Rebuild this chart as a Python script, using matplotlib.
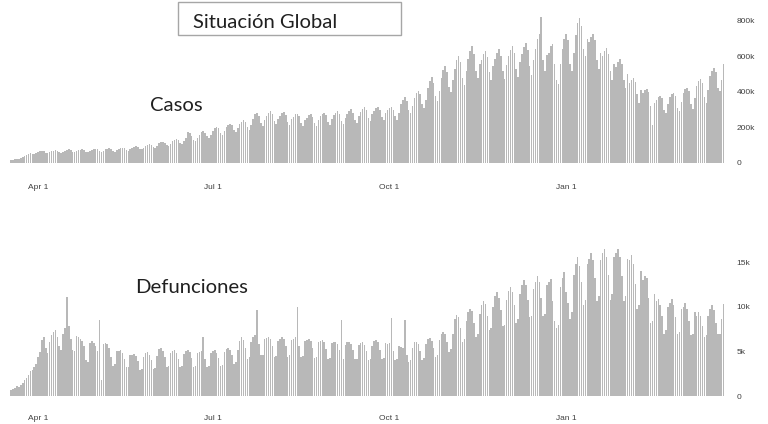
import numpy as np
import pandas as pd
import matplotlib
matplotlib.use("Agg")
import matplotlib.pyplot as plt
import matplotlib.dates as mdates
from matplotlib.patches import Rectangle

# daily global values; one row per week (Wed..Tue), starting 2020-03-18
casos_k = [
    [14, 16, 20, 24, 22, 26, 32],
    [40, 45, 52, 56, 50, 48, 55],
    [62, 66, 68, 66, 58, 55, 60],
    [66, 70, 72, 70, 60, 56, 62],
    [70, 74, 76, 72, 62, 60, 66],
    [72, 74, 76, 72, 64, 60, 68],
    [74, 78, 80, 76, 66, 62, 70],
    [76, 80, 82, 78, 68, 64, 72],
    [80, 84, 86, 82, 72, 68, 76],
    [86, 92, 96, 90, 80, 76, 84],
    [98, 104, 108, 102, 90, 84, 94],
    [110, 116, 120, 114, 100, 96, 108],
    [124, 130, 136, 128, 112, 106, 122],
    [138, 176, 168, 150, 130, 124, 142],
    [160, 172, 180, 170, 150, 140, 160],
    [180, 196, 204, 196, 170, 160, 182],
    [204, 214, 222, 212, 186, 176, 198],
    [220, 232, 240, 228, 200, 186, 214],
    [250, 274, 282, 262, 226, 210, 240],
    [262, 280, 290, 274, 236, 218, 250],
    [266, 282, 286, 270, 232, 214, 248],
    [258, 274, 278, 262, 226, 210, 242],
    [256, 270, 276, 260, 224, 208, 240],
    [262, 278, 284, 268, 230, 214, 246],
    [268, 284, 292, 274, 236, 220, 252],
    [276, 294, 302, 284, 244, 226, 262],
    [288, 306, 316, 298, 256, 238, 274],
    [294, 312, 318, 300, 260, 240, 280],
    [296, 308, 314, 300, 262, 244, 282],
    [330, 356, 370, 348, 300, 280, 320],
    [368, 394, 408, 386, 334, 310, 356],
    [420, 460, 482, 450, 380, 350, 408],
    [480, 522, 548, 512, 430, 400, 468],
    [532, 580, 604, 566, 476, 440, 516],
    [586, 632, 658, 614, 520, 476, 560],
    [580, 612, 632, 598, 510, 468, 546],
    [584, 620, 642, 604, 516, 474, 552],
    [600, 636, 660, 620, 530, 486, 566],
    [616, 652, 676, 636, 544, 498, 580],
    [640, 700, 726, 822, 580, 520, 610],
    [620, 660, 670, 560, 470, 444, 560],
    [640, 700, 726, 690, 560, 520, 620],
    [720, 790, 814, 770, 640, 600, 700],
    [680, 710, 726, 690, 580, 530, 620],
    [600, 630, 648, 614, 520, 470, 560],
    [540, 570, 586, 556, 470, 420, 500],
    [450, 470, 480, 456, 390, 340, 410],
    [396, 410, 418, 400, 320, 212, 340],
    [356, 370, 380, 364, 300, 280, 330],
    [370, 386, 396, 380, 310, 290, 344],
    [396, 414, 424, 406, 330, 306, 366],
    [436, 460, 474, 452, 370, 340, 410],
    [490, 520, 536, 510, 420, 404, 470],
    [560],
]

defunciones_k = [
    [0.7, 0.8, 0.9, 1.1, 1.0, 1.2, 1.5],
    [1.8, 2.0, 2.4, 2.8, 2.9, 3.2, 3.6],
    [4.4, 4.9, 6.3, 6.6, 5.4, 4.8, 6.0],
    [6.8, 7.2, 7.4, 6.6, 5.6, 5.2, 6.9],
    [7.6, 11.1, 7.8, 6.4, 5.2, 5.0, 6.7],
    [6.6, 6.4, 6.2, 5.6, 4.0, 3.8, 5.9],
    [6.2, 5.9, 5.6, 5.0, 8.5, 1.8, 5.8],
    [5.9, 5.8, 5.4, 4.4, 3.4, 3.6, 5.0],
    [5.0, 5.1, 4.8, 4.2, 3.2, 3.3, 4.6],
    [4.6, 4.7, 4.5, 3.9, 2.9, 3.0, 4.4],
    [4.8, 4.9, 4.6, 4.0, 3.0, 3.1, 4.5],
    [5.3, 5.4, 5.0, 4.4, 3.3, 3.4, 4.8],
    [5.0, 5.1, 4.8, 4.2, 3.2, 3.4, 4.7],
    [5.0, 5.1, 4.9, 4.3, 3.3, 3.4, 4.8],
    [4.9, 5.0, 6.6, 4.2, 3.2, 3.4, 4.8],
    [5.0, 5.1, 4.8, 4.3, 3.4, 3.5, 4.9],
    [5.3, 5.4, 5.2, 4.6, 3.6, 3.8, 5.2],
    [6.2, 6.6, 6.3, 5.4, 4.2, 4.4, 6.0],
    [6.6, 6.8, 9.6, 5.8, 4.6, 4.6, 6.4],
    [6.5, 6.6, 6.4, 5.6, 4.4, 4.5, 6.2],
    [6.4, 6.6, 6.4, 5.6, 4.4, 4.6, 6.3],
    [6.4, 6.6, 10.0, 5.6, 4.4, 4.5, 6.2],
    [6.3, 6.4, 6.2, 5.4, 4.3, 4.4, 6.0],
    [6.2, 6.3, 6.0, 5.3, 4.2, 4.3, 5.9],
    [6.0, 6.1, 5.8, 5.2, 8.5, 4.2, 5.7],
    [6.0, 6.0, 5.8, 5.1, 4.1, 4.2, 5.7],
    [5.9, 6.0, 5.7, 5.0, 4.0, 4.2, 5.6],
    [6.2, 6.3, 6.0, 5.2, 4.2, 4.3, 5.9],
    [5.8, 5.9, 8.7, 5.0, 4.0, 4.1, 5.6],
    [5.5, 5.4, 8.5, 4.6, 3.8, 4.0, 5.4],
    [6.0, 6.1, 5.8, 5.0, 4.0, 4.3, 5.8],
    [6.4, 6.5, 6.2, 5.4, 4.4, 4.6, 6.3],
    [7.0, 7.2, 6.9, 6.0, 4.9, 5.3, 7.0],
    [8.6, 9.1, 8.8, 7.6, 6.0, 6.4, 8.4],
    [9.4, 9.8, 9.5, 8.2, 6.6, 7.0, 9.2],
    [10.2, 10.6, 10.3, 9.0, 7.4, 7.6, 10.0],
    [11.2, 11.7, 11.0, 9.6, 7.8, 8.0, 10.8],
    [11.8, 12.2, 11.6, 10.2, 8.2, 8.6, 11.4],
    [12.4, 13.0, 12.4, 10.8, 8.8, 9.0, 12.0],
    [12.8, 13.4, 12.8, 11.0, 9.0, 9.2, 12.4],
    [12.8, 13.1, 10.6, 8.4, 7.6, 8.0, 12.2],
    [13.2, 13.9, 11.6, 10.4, 8.6, 9.4, 13.6],
    [14.8, 15.6, 14.6, 12.8, 10.2, 10.8, 14.8],
    [15.4, 16.0, 15.2, 13.2, 10.6, 11.2, 15.2],
    [16.0, 16.5, 15.6, 13.6, 10.8, 11.4, 15.6],
    [16.0, 16.5, 15.6, 13.4, 10.6, 11.2, 15.4],
    [15.2, 15.8, 14.8, 12.6, 9.8, 10.2, 14.0],
    [13.0, 13.4, 13.2, 11.0, 8.2, 8.4, 11.4],
    [10.6, 10.9, 10.2, 9.0, 7.0, 7.4, 10.0],
    [10.4, 10.9, 10.2, 8.8, 7.0, 7.2, 9.8],
    [10.0, 10.4, 9.8, 8.4, 6.8, 7.0, 9.4],
    [9.0, 9.4, 9.0, 7.8, 6.6, 6.8, 9.0],
    [9.8, 10.2, 9.6, 8.2, 7.0, 7.0, 8.6],
    [10.3],
]

casos = [v * 1000 for week in casos_k for v in week]
defunciones = [v * 1000 for week in defunciones_k for v in week]
fechas = pd.date_range("2020-03-18", periods=len(casos), freq="D")

tick_fechas = pd.to_datetime(["2020-04-01", "2020-07-01", "2020-10-01", "2021-01-01"])
tick_labels = ["Apr 1", "Jul 1", "Oct 1", "Jan 1"]

casos_ticks = [0, 200000, 400000, 600000, 800000]
casos_tick_labels = ["0", "200k", "400k", "600k", "800k"]
def_ticks = [0, 5000, 10000, 15000]
def_tick_labels = ["0", "5k", "10k", "15k"]

bar_color = "#b8b8b8"
tick_color = "#404040"

fig = plt.figure(figsize=(7.68, 4.24), dpi=100)
fig.patch.set_facecolor("white")

left = 0.0121
width = 0.9326
xmin = pd.Timestamp("2020-03-17")
xmax = pd.Timestamp("2021-03-25")


def style_axis(ax, yticks, ylabels, ymax, pad_x):
    ax.set_xlim(xmin, xmax)
    ax.set_ylim(0, ymax)
    for s in ax.spines.values():
        s.set_visible(False)
    ax.set_xticks(tick_fechas)
    ax.set_xticklabels(tick_labels)
    ax.yaxis.tick_right()
    ax.set_yticks(yticks)
    ax.set_yticklabels(ylabels)
    ax.tick_params(axis="x", length=0, pad=pad_x, labelsize=6, labelcolor=tick_color)
    ax.tick_params(axis="y", length=0, pad=8, labelsize=6, labelcolor=tick_color)
    for lab in ax.get_xticklabels() + ax.get_yticklabels():
        lab.set_fontfamily("Liberation Sans")
    ax.set_facecolor("none")


ax1 = fig.add_axes([left, 0.6156, width, 0.356])
ax1.bar(fechas, casos, width=0.8, color=bar_color, linewidth=0)
style_axis(ax1, casos_ticks, casos_tick_labels, 850000, 15)

ax2 = fig.add_axes([left, 0.066, width, 0.358])
ax2.bar(fechas, defunciones, width=0.8, color=bar_color, linewidth=0)
style_axis(ax2, def_ticks, def_tick_labels, 17000, 14)

# title box
fig.patches.append(Rectangle((0.2318, 0.9175), 0.2904, 0.0775, transform=fig.transFigure,
                             fill=False, edgecolor="#a6a6a6", linewidth=1.0))
fig.text(0.345, 0.948, "Situación Global", ha="center", va="center",
         fontsize=14.6, family="Lato", color="#202020")
fig.text(0.229, 0.752, "Casos", ha="center", va="center",
         fontsize=14.6, family="Lato", color="#202020")
fig.text(0.249, 0.323, "Defunciones", ha="center", va="center",
         fontsize=14.6, family="Lato", color="#202020")

fig.savefig("out.png", dpi=100, facecolor="white")
